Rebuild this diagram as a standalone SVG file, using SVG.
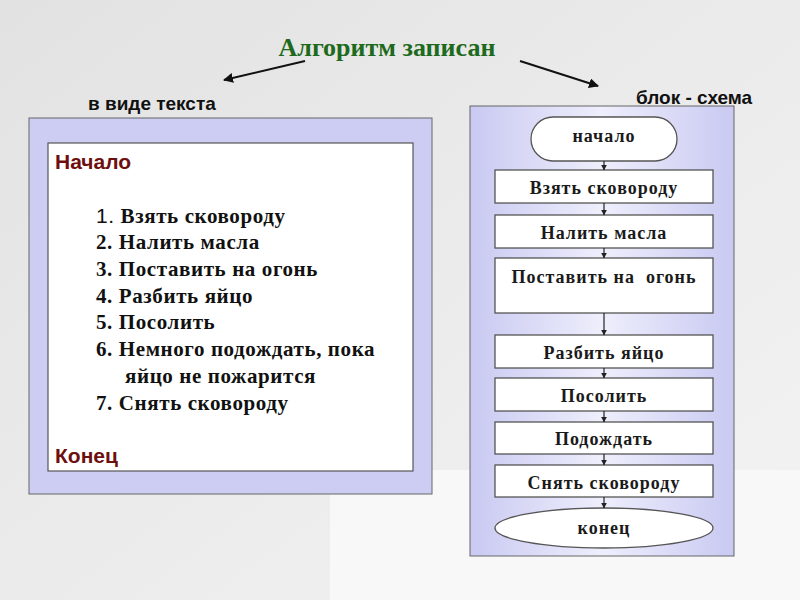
<svg xmlns="http://www.w3.org/2000/svg" width="800" height="600" viewBox="0 0 800 600">
<defs>
<linearGradient id="bg" x1="0" y1="0" x2="1" y2="1">
<stop offset="0" stop-color="#e2e2e2"/>
<stop offset="0.5" stop-color="#ebebeb"/>
<stop offset="1" stop-color="#f3f3f3"/>
</linearGradient>
<linearGradient id="panel" x1="0" y1="0" x2="1" y2="0">
<stop offset="0" stop-color="#c9c9f2"/>
<stop offset="0.5" stop-color="#eeeefc"/>
<stop offset="1" stop-color="#c9c9f2"/>
</linearGradient>
<marker id="ah" viewBox="0 0 10 10" refX="9" refY="5" markerWidth="10" markerHeight="10" markerUnits="userSpaceOnUse" orient="auto">
<path d="M0,0 L10,5 L0,10 z" fill="#111"/>
</marker>
<marker id="sa" viewBox="0 0 10 10" refX="9" refY="5" markerWidth="6" markerHeight="6" markerUnits="userSpaceOnUse" orient="auto">
<path d="M0,0 L10,5 L0,10 z" fill="#222"/>
</marker>
</defs>
<style>
.box{fill:#fff;stroke:#555;stroke-width:1.3}
.lbl{font-family:"Liberation Serif","DejaVu Serif",serif;font-weight:bold;font-size:18px;letter-spacing:1px;fill:#1a1a1a;text-anchor:middle}
.item{font-family:"Liberation Serif","DejaVu Serif",serif;font-weight:bold;font-size:21px;letter-spacing:0.6px;fill:#111}
.cap{font-family:"Liberation Sans","DejaVu Sans",sans-serif;font-weight:bold;font-size:19px;fill:#111}
.red{font-family:"Liberation Sans","DejaVu Sans",sans-serif;font-weight:bold;font-size:21px;fill:#6e0f0f}
.conn line{stroke:#222;stroke-width:1.2}
</style>
<rect width="800" height="600" fill="url(#bg)"/>
<rect x="330" y="470" width="470" height="130" fill="#f8f8f8"/>

<g id="title">
<text x="387" y="56" text-anchor="middle" font-family="Liberation Serif, DejaVu Serif, serif" font-weight="bold" font-size="26" fill="#1d6a1d">Алгоритм записан</text>
</g>
<g id="title-arrows">
<line x1="305" y1="61" x2="224" y2="80" stroke="#111" stroke-width="2" marker-end="url(#ah)"/>
<line x1="520" y1="61" x2="598" y2="86" stroke="#111" stroke-width="2" marker-end="url(#ah)"/>
</g>

<g id="text-caption"><text class="cap" x="88" y="110">в виде текста</text></g>
<g id="scheme-caption"><text class="cap" x="636" y="104">блок - схема</text></g>

<g id="text-panel">
<rect x="29" y="118" width="403" height="376" fill="#cdcdf4" stroke="#666" stroke-width="1"/>
<rect x="48" y="143" width="365" height="328" fill="#fff" stroke="#555" stroke-width="1.2"/>
<text class="red" x="55" y="169">Начало</text>
<text class="item" x="96" y="223"><tspan font-family="Liberation Sans, DejaVu Sans, sans-serif" font-weight="normal">1.</tspan> Взять сковороду</text>
<text class="item" x="96" y="249">2. Налить масла</text>
<text class="item" x="96" y="276">3. Поставить на огонь</text>
<text class="item" x="96" y="303">4. Разбить яйцо</text>
<text class="item" x="96" y="329">5. Посолить</text>
<text class="item" x="96" y="356">6. Немного подождать, пока</text>
<text class="item" x="125" y="383">яйцо не пожарится</text>
<text class="item" x="96" y="410">7. Снять сковороду</text>
<text class="red" x="55" y="463">Конец</text>
</g>

<g id="scheme-panel">
<rect x="470" y="106" width="264" height="450" fill="url(#panel)" stroke="#666" stroke-width="1"/>
</g>

<g id="n-start">
<rect class="box" x="531" y="117" width="146" height="44" rx="22" ry="22"/>
<text class="lbl" x="604" y="142">начало</text>
</g>
<g id="n1">
<rect class="box" x="495" y="170" width="218" height="33"/>
<text class="lbl" x="604" y="194">Взять сковороду</text>
</g>
<g id="n2">
<rect class="box" x="495" y="215" width="218" height="33"/>
<text class="lbl" x="604" y="239">Налить масла</text>
</g>
<g id="n3">
<rect class="box" x="495" y="258" width="218" height="55"/>
<text class="lbl" x="604" y="283" xml:space="preserve">Поставить на  огонь</text>
</g>
<g id="n4">
<rect class="box" x="495" y="335" width="218" height="33"/>
<text class="lbl" x="604" y="359">Разбить яйцо</text>
</g>
<g id="n5">
<rect class="box" x="495" y="378" width="218" height="33"/>
<text class="lbl" x="604" y="402">Посолить</text>
</g>
<g id="n6">
<rect class="box" x="495" y="422" width="218" height="32"/>
<text class="lbl" x="604" y="445">Подождать</text>
</g>
<g id="n7">
<rect class="box" x="495" y="465" width="218" height="32"/>
<text class="lbl" x="604" y="489">Снять сковороду</text>
</g>
<g id="n-end">
<ellipse class="box" cx="604" cy="528" rx="109" ry="20"/>
<text class="lbl" x="604" y="534">конец</text>
</g>

<g id="connectors" class="conn">
<line x1="604" y1="161" x2="604" y2="170" marker-end="url(#sa)"/>
<line x1="604" y1="203" x2="604" y2="215" marker-end="url(#sa)"/>
<line x1="604" y1="248" x2="604" y2="258" marker-end="url(#sa)"/>
<line x1="604" y1="313" x2="604" y2="335" marker-end="url(#sa)"/>
<line x1="604" y1="368" x2="604" y2="378" marker-end="url(#sa)"/>
<line x1="604" y1="411" x2="604" y2="422" marker-end="url(#sa)"/>
<line x1="604" y1="454" x2="604" y2="465" marker-end="url(#sa)"/>
<line x1="604" y1="497" x2="604" y2="508" marker-end="url(#sa)"/>
</g>
</svg>
